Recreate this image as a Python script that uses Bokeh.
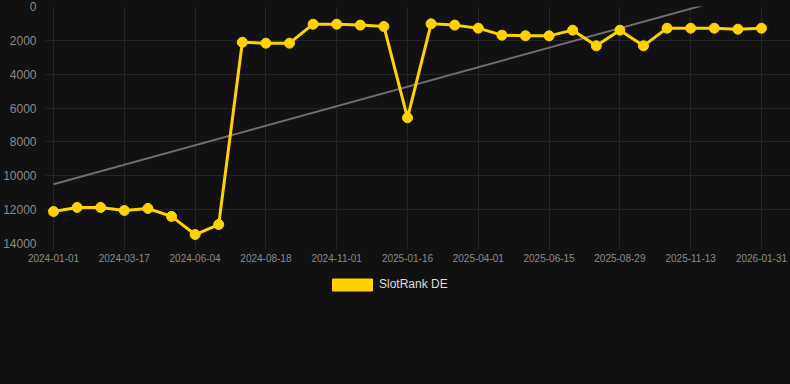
import numpy as np
from bokeh.plotting import figure
from bokeh.layouts import column
from bokeh.models import Range1d, FixedTicker, Legend, LegendItem, ColumnDataSource
from bokeh.embed import file_html
from bokeh.resources import INLINE

# ---- data ----
dates = [
    "2024-01-01", "2024-01-26", "2024-02-20", "2024-03-17", "2024-04-12",
    "2024-05-08", "2024-06-04", "2024-06-29", "2024-07-24", "2024-08-18",
    "2024-09-12", "2024-10-07", "2024-11-01", "2024-11-26", "2024-12-21",
    "2025-01-16", "2025-02-09", "2025-03-07", "2025-04-01", "2025-04-26",
    "2025-05-21", "2025-06-15", "2025-07-10", "2025-08-04", "2025-08-29",
    "2025-09-23", "2025-10-18", "2025-11-13", "2025-12-10", "2026-01-05",
    "2026-01-31",
]
rank = [
    12110, 11870, 11870, 12050, 11930, 12400, 13470, 12880,
    2110, 2167, 2167, 1045, 1045, 1100, 1181, 6575,
    1024, 1100, 1280, 1693, 1733, 1733, 1398, 2324,
    1398, 2324, 1280, 1280, 1280, 1339, 1280,
]
# trend line values at first and last date
trend = [10500, -1020]
y_ticks = [0, 2000, 4000, 6000, 8000, 10000, 12000, 14000]
series_name = "SlotRank DE"

YELLOW = "#FFD200"
BG = "#111111"
GRID = "#252525"

idx = np.arange(len(dates))
src = ColumnDataSource(dict(x=idx, y=rank, date=dates))
tx = [int(idx[0]), int(idx[-1])]

p = figure(
    width=790, height=270,
    output_backend="svg", toolbar_location=None,
    x_range=Range1d(-0.34, 31.23), y_range=Range1d(14000, 0),
    min_border_left=45, min_border_right=0, min_border_top=6, min_border_bottom=27,
    background_fill_color=BG, border_fill_color=BG, outline_line_color=None,
)

p.line(tx, trend, line_color="#6e6e6e", line_width=2)
p.line("x", "y", source=src, line_color=YELLOW, line_width=3)
p.scatter("x", "y", source=src, size=10, fill_color=YELLOW, line_color=YELLOW)

xt = list(range(0, len(dates), 3))
p.xaxis.ticker = FixedTicker(ticks=xt)
p.xaxis.major_label_overrides = {int(i): dates[i] for i in xt}
p.xgrid.ticker = FixedTicker(ticks=xt)
p.yaxis.ticker = FixedTicker(ticks=y_ticks)
p.ygrid.ticker = FixedTicker(ticks=y_ticks)

for ax in (p.xaxis[0], p.yaxis[0]):
    ax.axis_line_color = None
    ax.minor_tick_line_color = None
    ax.major_label_text_font = "Liberation Sans"
    ax.major_label_text_color = "#8a8a8a"

p.xaxis.major_tick_line_color = GRID
p.xaxis.major_tick_out = 6
p.xaxis.major_tick_in = 0
p.xaxis.major_label_standoff = 4
p.xaxis.major_label_text_font_size = "10px"

p.yaxis.major_tick_line_color = None
p.yaxis.major_label_standoff = 3
p.yaxis.major_label_text_font_size = "12px"

p.xgrid.grid_line_color = GRID
p.ygrid.grid_line_color = GRID

# ---- legend strip below the chart ----
p2 = figure(
    width=790, height=114,
    output_backend="svg", toolbar_location=None,
    x_range=Range1d(0, 1), y_range=Range1d(0, 1),
    min_border_left=45, min_border_right=0, min_border_top=0, min_border_bottom=0,
    background_fill_color=BG, border_fill_color=BG,
)
p2.outline_line_color = None
p2.axis.visible = False
p2.grid.visible = False
p2.xaxis.axis_line_color = None
p2.yaxis.axis_line_color = None
dummy = p2.quad(left=[np.nan], right=[np.nan], top=[np.nan], bottom=[np.nan],
                fill_color=YELLOW, line_color=YELLOW)
legend = Legend(
    items=[LegendItem(label=series_name, renderers=[dummy])],
    location=(282, 92.5), orientation="horizontal",
    background_fill_alpha=0, border_line_color=None, padding=0, margin=0,
    glyph_width=50, glyph_height=15, label_height=15, label_standoff=2,
    label_text_font_size="12px", label_text_color="#dddddd",
    label_text_font="Liberation Sans",
)
p2.add_layout(legend)

layout = column(p, p2, spacing=0)
layout.styles = {"background-color": BG}
open("out.html", "w").write(file_html(layout, INLINE))
